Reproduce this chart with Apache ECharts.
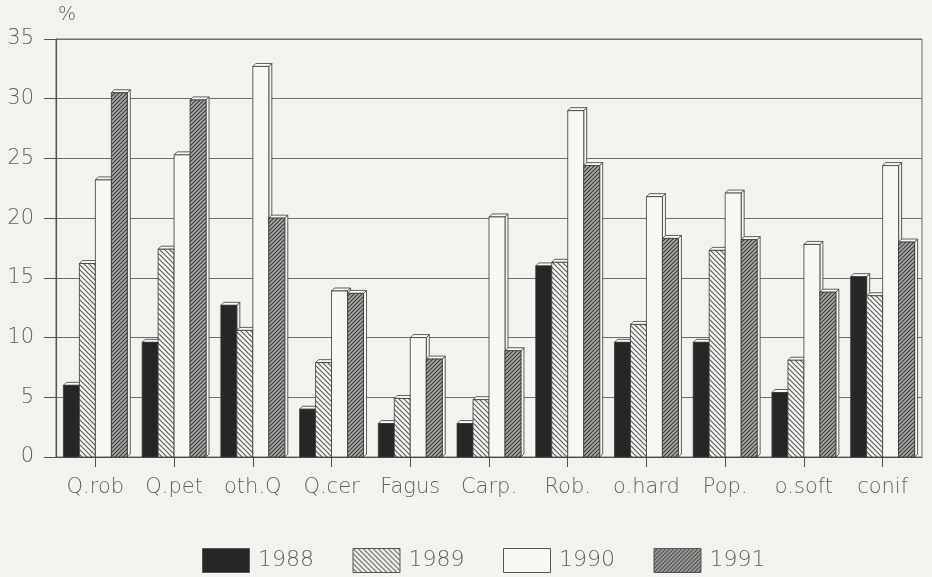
<!DOCTYPE html>
<html>
<head>
<meta charset="utf-8">
<script src="https://cdn.jsdelivr.net/npm/echarts@6/dist/echarts.min.js"></script>
<style>
  html, body { margin: 0; padding: 0; background: #f3f2ee; }
  #chart { width: 932px; height: 577px; }
</style>
</head>
<body>
<div id="chart"></div>
<script>
// Species groups along the x axis
const categories = ['Q.rob', 'Q.pet', 'oth.Q', 'Q.cer', 'Fagus', 'Carp.', 'Rob.', 'o.hard', 'Pop.', 'o.soft', 'conif'];
// Share (%) per year
const years = ['1988', '1989', '1990', '1991'];
const v1988 = [6.0, 9.6, 12.7, 4.0, 2.8, 2.8, 16.0, 9.6, 9.6, 5.4, 15.1];
const v1989 = [16.2, 17.4, 10.6, 7.9, 4.9, 4.8, 16.3, 11.1, 17.3, 8.1, 13.5];
const v1990 = [23.2, 25.3, 32.7, 13.9, 10.0, 20.1, 29.0, 21.8, 22.1, 17.8, 24.4];
const v1991 = [30.5, 29.9, 20.0, 13.7, 8.2, 8.9, 24.4, 18.3, 18.2, 13.8, 18.0];
const yTicks = { min: 0, max: 35, step: 5 };

const seriesValues = [v1988, v1989, v1990, v1991];

// Hatch tiles
function hatch(size, bg, fg, dir, lw) {
  const c = document.createElement('canvas');
  c.width = size; c.height = size;
  const g = c.getContext('2d');
  g.fillStyle = bg; g.fillRect(0, 0, size, size);
  g.strokeStyle = fg; g.lineWidth = lw;
  g.beginPath();
  if (dir === '/') {
    g.moveTo(0, size); g.lineTo(size, 0);
    g.moveTo(-size, size); g.lineTo(size, -size);
    g.moveTo(0, 2 * size); g.lineTo(2 * size, 0);
  } else {
    g.moveTo(0, 0); g.lineTo(size, size);
    g.moveTo(-size, 0); g.lineTo(size, 2 * size);
    g.moveTo(0, -size); g.lineTo(2 * size, size);
  }
  g.stroke();
  return { image: c, repeat: 'repeat' };
}

const fills = [
  '#262626',
  hatch(5, '#f6f6f2', '#5a5a5a', '\\', 1.1),
  '#f7f7f3',
  hatch(4, '#a9a9a6', '#3e3e3e', '/', 1.2)
];
const edge = '#3a3a3a';
const depth = 3;

// Front face, top cap and right side of each bar
function makeRender(s) {
  return function (params, api) {
    const ci = api.value(0);
    const v = api.value(1);
    const top = api.coord([ci, v]);
    const base = api.coord([ci, 0]);
    const band = api.size([1, 0])[0];
    const w = band * 0.203;
    const x0 = top[0] - 2 * w + s * w;
    const yt = top[1];
    const yb = base[1];
    const d = depth;
    return {
      type: 'group',
      children: [
        {
          type: 'polygon',
          shape: { points: [[x0 + w, yt], [x0 + w + d, yt - d], [x0 + w + d, yb - d], [x0 + w, yb]] },
          style: { fill: '#f2f2ee', stroke: edge, lineWidth: 0.8 }
        },
        {
          type: 'polygon',
          shape: { points: [[x0, yt], [x0 + d, yt - d], [x0 + w + d, yt - d], [x0 + w, yt]] },
          style: { fill: '#f7f7f3', stroke: edge, lineWidth: 0.8 }
        },
        {
          type: 'rect',
          shape: { x: x0, y: yt, width: w, height: yb - yt },
          style: { fill: fills[s], stroke: edge, lineWidth: 0.8 }
        }
      ]
    };
  };
}

const font = '"DejaVu Sans", Lato, sans-serif';
const txt = '#626262';

const series = years.map((y, s) => ({
  name: y,
  type: 'custom',
  renderItem: makeRender(s),
  encode: { x: 0, y: 1 },
  data: seriesValues[s].map((v, i) => [i, v]),
  z: 2 + s
}));

// Legend boxes and labels
const legendGraphics = [];
years.forEach((y, s) => {
  const lx = 202 + s * 150.5;
  legendGraphics.push({
    type: 'rect',
    left: lx, top: 548,
    shape: { width: 47, height: 24 },
    style: { fill: fills[s], stroke: '#555', lineWidth: 1 }
  });
  legendGraphics.push({
    type: 'text',
    left: lx + 56, top: 549,
    style: { text: y, font: '200 22px ' + font, fill: txt }
  });
});

const chart = echarts.init(document.getElementById('chart'), null, { renderer: 'canvas' });
chart.setOption({
  backgroundColor: '#f3f2ee',
  animation: false,
  grid: { left: 56, right: 10, top: 39, bottom: 120, show: true, borderColor: '#6e6e6e', borderWidth: 1 },
  xAxis: {
    type: 'category',
    data: categories,
    axisLine: { show: true, lineStyle: { color: '#555', width: 1 } },
    axisTick: { show: true, alignWithLabel: true, length: 10, lineStyle: { color: '#555' } },
    axisLabel: { fontFamily: font, fontWeight: 200, fontSize: 21, color: txt, margin: 20, interval: 0 }
  },
  yAxis: {
    type: 'value',
    min: yTicks.min, max: yTicks.max, interval: yTicks.step,
    name: '%',
    nameLocation: 'end',
    nameGap: 14,
    nameTextStyle: { fontFamily: font, fontWeight: 200, fontSize: 19, color: txt, align: 'left', padding: [0, 0, 0, 2] },
    axisLine: { show: true, lineStyle: { color: '#555', width: 1.2 } },
    axisTick: { show: true, length: 12, lineStyle: { color: '#555' } },
    axisLabel: { fontFamily: font, fontWeight: 200, fontSize: 21, color: txt, margin: 22 },
    splitLine: { show: true, lineStyle: { color: '#6e6e6e', width: 1 } }
  },
  series: series,
  graphic: legendGraphics
});
</script>
</body>
</html>
